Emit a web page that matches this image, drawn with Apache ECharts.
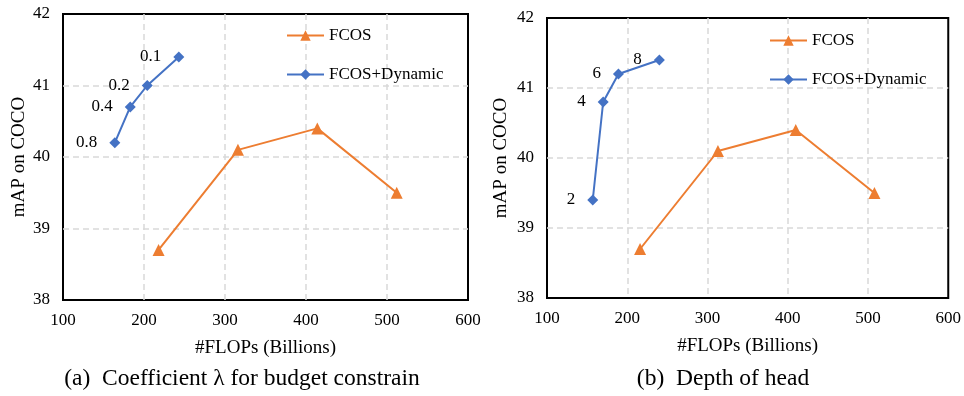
<!DOCTYPE html>
<html>
<head>
<meta charset="utf-8">
<script src="https://cdn.jsdelivr.net/npm/echarts@6/dist/echarts.min.js"></script>
<style>
  html, body { margin: 0; padding: 0; background: #fff; }
  #chart { width: 964px; height: 396px; }
</style>
</head>
<body>
<div id="chart"></div>
<script>
// datos
const fcosFlopsA = [218, 316, 414, 512];
const fcosMapA = [38.7, 40.1, 40.4, 39.5];
const dynFlopsA = [164, 183, 204, 243];
const dynMapA = [40.2, 40.7, 41.0, 41.4];
const lambdaLabels = ['0.8', '0.4', '0.2', '0.1'];

const fcosFlopsB = [216, 313, 410, 508];
const fcosMapB = [38.7, 40.1, 40.4, 39.5];
const dynFlopsB = [157, 170, 189, 240];
const dynMapB = [39.4, 40.8, 41.2, 41.4];
const depthLabels = ['2', '4', '6', '8'];

const captions = ['(a)  Coefficient \u03bb for budget constrain', '(b)  Depth of head'];

const FONT = '"Liberation Serif", "Times New Roman", serif';
const ORANGE = '#ED7D31';
const BLUE = '#4472C4';

const chart = echarts.init(document.getElementById('chart'));

function pairs(xs, ys) {
    return xs.map((x, i) => [x, ys[i]]);
}

function labelled(xs, ys, labels) {
    return xs.map((x, i) => ({ value: [x, ys[i]], label: { formatter: labels[i] } }));
}

const gridLine = {
    show: true,
    showMinLine: false,
    showMaxLine: false,
    lineStyle: { color: '#d9d9d9', width: 1.5, type: [6, 4] }
};

function xAxisFor(gridIndex) {
    return {
        gridIndex: gridIndex,
        type: 'value',
        min: 100, max: 600, interval: 100,
        name: '#FLOPs (Billions)',
        nameLocation: 'middle',
        nameGap: 39,
        nameTextStyle: { fontFamily: FONT, fontSize: 19, color: '#000' },
        axisLine: { show: false },
        axisTick: { show: false },
        axisLabel: { fontFamily: FONT, fontSize: 17, color: '#000', margin: 12 },
        splitLine: gridLine
    };
}

function yAxisFor(gridIndex, gap) {
    return {
        gridIndex: gridIndex,
        type: 'value',
        min: 38, max: 42, interval: 1,
        name: 'mAP on COCO',
        nameLocation: 'middle',
        nameGap: gap,
        nameTextStyle: { fontFamily: FONT, fontSize: 19, color: '#000' },
        axisLine: { show: false },
        axisTick: { show: false },
        axisLabel: { fontFamily: FONT, fontSize: 17, color: '#000', margin: 13 },
        splitLine: gridLine
    };
}

function fcosSeries(idx, xs, ys) {
    return {
        name: 'FCOS',
        type: 'line',
        xAxisIndex: idx, yAxisIndex: idx,
        data: pairs(xs, ys),
        symbol: 'triangle',
        symbolSize: 12,
        lineStyle: { color: ORANGE, width: 2 },
        itemStyle: { color: ORANGE },
        animation: false
    };
}

function dynSeries(idx, xs, ys, labels) {
    return {
        name: 'FCOS+Dynamic',
        type: 'line',
        xAxisIndex: idx, yAxisIndex: idx,
        data: labelled(xs, ys, labels),
        symbol: 'diamond',
        symbolSize: 11,
        lineStyle: { color: BLUE, width: 2 },
        itemStyle: { color: BLUE },
        label: {
            show: true,
            position: 'left',
            distance: 12,
            fontFamily: FONT,
            fontSize: 17,
            color: '#000'
        },
        animation: false
    };
}

function legendAt(left, top) {
    return {
        orient: 'vertical',
        left: left, top: top,
        padding: 0,
        itemWidth: 37, itemHeight: 13,
        itemGap: 22,
        data: ['FCOS', 'FCOS+Dynamic'],
        textStyle: { fontFamily: FONT, fontSize: 17, color: '#000' }
    };
}

const option = {
    backgroundColor: '#fff',
    animation: false,
    grid: [
        { left: 63, top: 14, width: 405, height: 286, show: true, borderColor: '#000', borderWidth: 2, backgroundColor: 'transparent' },
        { left: 547, top: 18, width: 403, height: 280, show: true, borderColor: '#000', borderWidth: 2, backgroundColor: 'transparent' }
    ],
    xAxis: [xAxisFor(0), xAxisFor(1)],
    yAxis: [yAxisFor(0, 34), yAxisFor(1, 36)],
    legend: [legendAt(286, 27), legendAt(769, 32)],
    series: [
        fcosSeries(0, fcosFlopsA, fcosMapA),
        dynSeries(0, dynFlopsA, dynMapA, lambdaLabels),
        fcosSeries(1, fcosFlopsB, fcosMapB),
        dynSeries(1, dynFlopsB, dynMapB, depthLabels)
    ],
    // pies de figura
    graphic: [
        { type: 'text', x: 242, y: 379, style: { text: captions[0], font: '23.5px ' + FONT, fill: '#000', textAlign: 'center', textVerticalAlign: 'middle' } },
        { type: 'text', x: 723, y: 379, style: { text: captions[1], font: '23.5px ' + FONT, fill: '#000', textAlign: 'center', textVerticalAlign: 'middle' } }
    ]
};

chart.setOption(option);
</script>
</body>
</html>
